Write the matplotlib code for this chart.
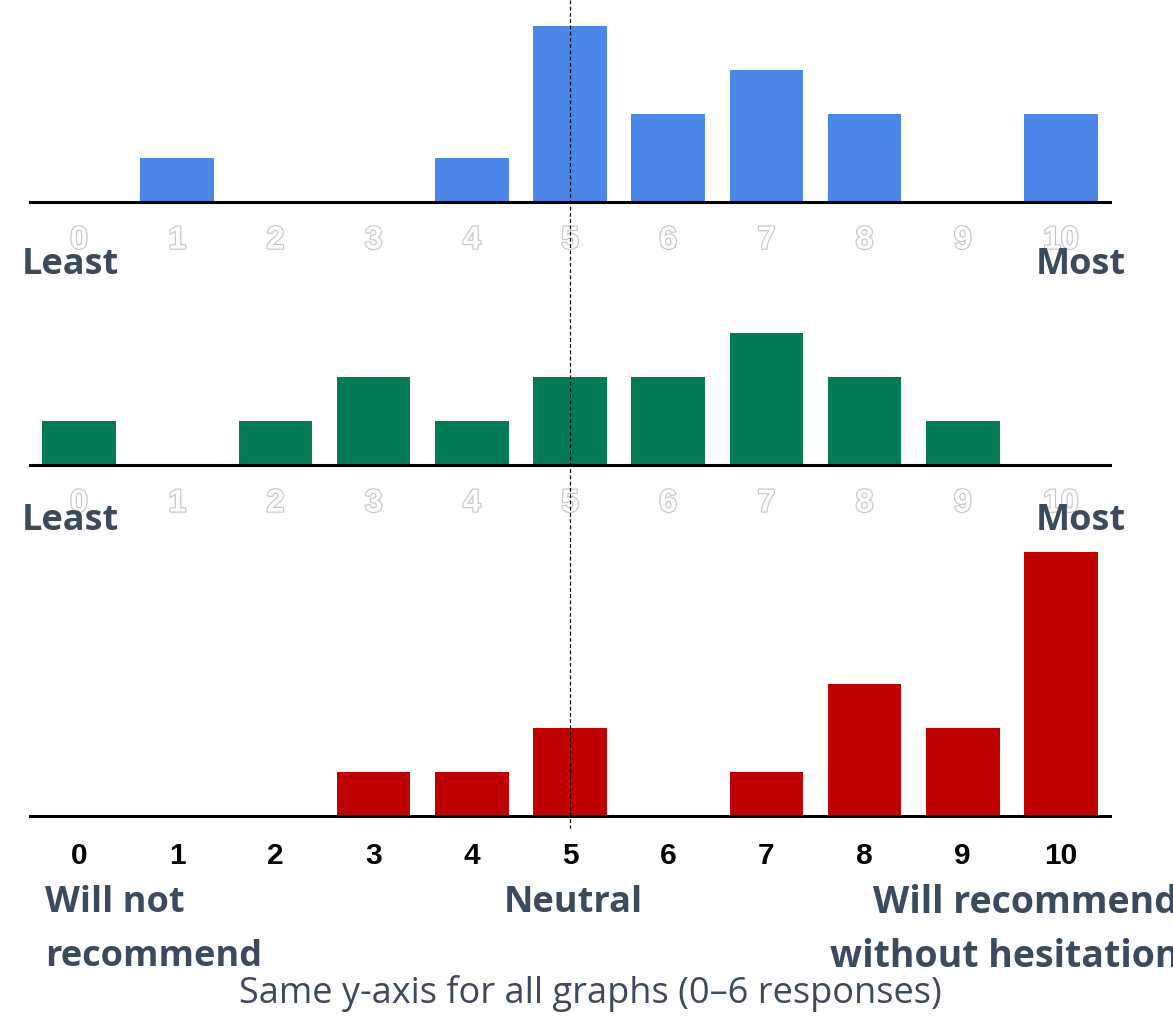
import numpy as np
import matplotlib
matplotlib.use("Agg")
import matplotlib.pyplot as plt
import matplotlib.patheffects as pe
import matplotlib.transforms as mtransforms

# data
scores = list(range(11))
blue_counts = [0, 1, 0, 0, 1, 4, 2, 3, 2, 0, 2]
green_counts = [1, 0, 1, 2, 1, 2, 2, 3, 2, 1, 0]
red_counts = [0, 0, 0, 1, 1, 2, 0, 1, 3, 2, 6]

W, H = 1173, 1016
fig = plt.figure(figsize=(W / 100, H / 100), dpi=100)

px_per_unit = 44.0
left, right = 30, 1110
text_col = '#3b4a5c'

# (baseline px, top px, values, colour, ghost labels?)
panels = [
    (202, 0, blue_counts, '#4a86e8', True),
    (465, 300, green_counts, '#037b56', True),
    (816, 540, red_counts, '#c00000', False),
]

axes = []
for base, top, vals, col, ghost in panels:
    ax = fig.add_axes([left / W, 1 - base / H, (right - left) / W, (base - top) / H])
    ax.bar(scores, vals, width=0.75, color=col)
    ax.set_xlim(-0.5, 10.5)
    ax.set_ylim(0, (base - top) / px_per_unit)
    for s in ['top', 'right', 'left']:
        ax.spines[s].set_visible(False)
    ax.spines['bottom'].set_linewidth(2.2)
    ax.spines['bottom'].set_color('black')
    ax.set_yticks([])
    ax.set_xticks(scores)
    if ghost:
        ax.set_xticklabels([str(s) for s in scores], family='Liberation Sans',
                           fontweight='bold', fontsize=23, color='white')
        for t in ax.get_xticklabels():
            t.set_path_effects([pe.withStroke(linewidth=1.6, foreground='#c4c4c4')])
        ax.tick_params(axis='x', length=0, pad=17)
    else:
        ax.set_xticklabels([str(s) for s in scores], family='Liberation Sans',
                           fontweight='bold', fontsize=21.5, color='black')
        ax.tick_params(axis='x', length=0, pad=19)
    axes.append(ax)

# dashed neutral line through all panels
tr = mtransforms.blended_transform_factory(axes[2].transData, fig.transFigure)
fig.add_artist(plt.Line2D([5, 5], [1.0, 1 - 828 / H], transform=tr,
                          color='black', lw=0.9, ls=(0, (3, 2)), zorder=10))

def ftxt(x, y, s, ha='left', size=26, weight='bold'):
    fig.text(x / W, 1 - y / H, s, ha=ha, va='center', fontsize=size,
             fontweight=weight, family='Open Sans', color=text_col)

ftxt(22, 265, 'Least')
ftxt(1126, 265, 'Most', ha='right')
ftxt(22, 521, 'Least')
ftxt(1126, 521, 'Most', ha='right')
ftxt(45, 903, 'Will not')
ftxt(45, 957, 'recommend')
ftxt(573, 903, 'Neutral', ha='center')
ftxt(873, 903, 'Will recommend', size=27)
ftxt(830, 957, 'without hesitation', size=27)
ftxt(590, 994, 'Same y-axis for all graphs (0\u20136 responses)', ha='center',
     size=26, weight='normal')

fig.savefig('out.png', dpi=100)
